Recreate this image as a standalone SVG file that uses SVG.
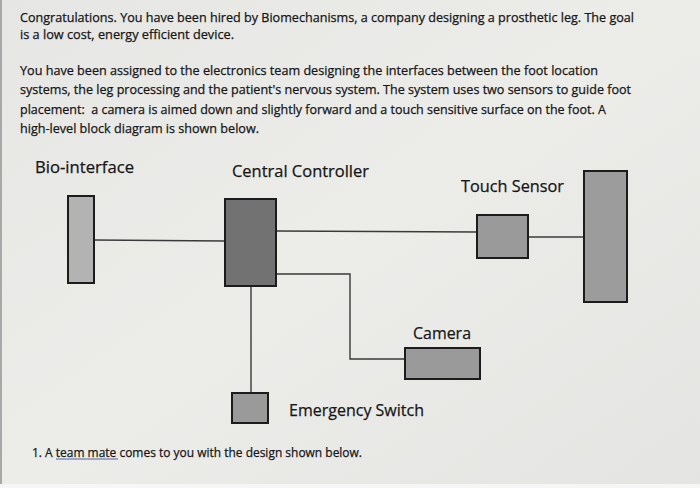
<svg xmlns="http://www.w3.org/2000/svg" width="700" height="488" viewBox="0 0 700 488">
<defs>
<linearGradient id="bg" x1="0" y1="0" x2="1" y2="1">
<stop offset="0" stop-color="#e6e6e4"/>
<stop offset="0.5" stop-color="#ecece9"/>
<stop offset="1" stop-color="#e4e4e2"/>
</linearGradient>
</defs>
<style>
.para{font-family:"Open Sans","Liberation Sans",sans-serif;font-size:12.5px;fill:#161616;stroke:#161616;stroke-width:0.25}
.lbl{font-family:"Open Sans","Liberation Sans",sans-serif;font-size:15.5px;fill:#161616;stroke:#161616;stroke-width:0.25}
.box{stroke:#1c1c1c;stroke-width:2}
.wire{stroke:#3a3a3a;stroke-width:1.4;fill:none}
</style>
<rect width="700" height="488" fill="url(#bg)"/>
<rect x="0" y="0" width="2" height="484" fill="#a8a8a8"/>
<rect x="0" y="484" width="700" height="4" fill="#f6f6f6"/>
<g id="text">
<text class="para" x="20" y="22" textLength="614" lengthAdjust="spacingAndGlyphs">Congratulations. You have been hired by Biomechanisms, a company designing a prosthetic leg. The goal</text>
<text class="para" x="20" y="39" textLength="214" lengthAdjust="spacingAndGlyphs">is a low cost, energy efficient device.</text>
<text class="para" x="20" y="75" textLength="578" lengthAdjust="spacingAndGlyphs">You have been assigned to the electronics team designing the interfaces between the foot location</text>
<text class="para" x="20" y="94" textLength="611" lengthAdjust="spacingAndGlyphs">systems, the leg processing and the patient's nervous system. The system uses two sensors to guide foot</text>
<text class="para" x="20" y="114" textLength="586" lengthAdjust="spacingAndGlyphs">placement:&#160; a camera is aimed down and slightly forward and a touch sensitive surface on the foot. A</text>
<text class="para" x="20" y="133" textLength="239" lengthAdjust="spacingAndGlyphs">high-level block diagram is shown below.</text>
<text class="para" x="32" y="457" font-size="12" textLength="330" lengthAdjust="spacingAndGlyphs">1. A team mate comes to you with the design shown below.</text>
<line x1="56" y1="459" x2="118" y2="459" stroke="#4a5ea8" stroke-width="1"/>
</g>
<g id="connectors">
<line class="wire" x1="94" y1="240" x2="225" y2="241"/>
<line class="wire" x1="276" y1="231" x2="477" y2="232"/>
<line class="wire" x1="528" y1="237" x2="584" y2="237"/>
<polyline class="wire" points="276,274 350,274 350,359 405,359"/>
<line class="wire" x1="251" y1="286" x2="251" y2="393"/>
</g>
<g id="bio-interface">
<rect class="box" x="68" y="196" width="26" height="87" fill="#b3b3b3"/>
<text class="lbl" x="35" y="173" textLength="99" lengthAdjust="spacingAndGlyphs">Bio-interface</text>
</g>
<g id="central-controller">
<rect class="box" x="225" y="199" width="51" height="87" fill="#727272"/>
<text class="lbl" x="232" y="177" textLength="137" lengthAdjust="spacingAndGlyphs">Central Controller</text>
</g>
<g id="touch-sensor">
<rect class="box" x="477" y="215" width="51" height="43" fill="#9a9a9a"/>
<text class="lbl" x="461" y="192" textLength="103" lengthAdjust="spacingAndGlyphs">Touch Sensor</text>
</g>
<g id="foot">
<rect class="box" x="584" y="171" width="43" height="131" fill="#9c9c9c"/>
</g>
<g id="camera">
<rect class="box" x="405" y="348" width="75" height="31" fill="#9a9a9a"/>
<text class="lbl" x="413" y="339" textLength="58" lengthAdjust="spacingAndGlyphs">Camera</text>
</g>
<g id="emergency-switch">
<rect class="box" x="232" y="393" width="36" height="30" fill="#9a9a9a"/>
<text class="lbl" x="289" y="416" textLength="135" lengthAdjust="spacingAndGlyphs">Emergency Switch</text>
</g>
</svg>
